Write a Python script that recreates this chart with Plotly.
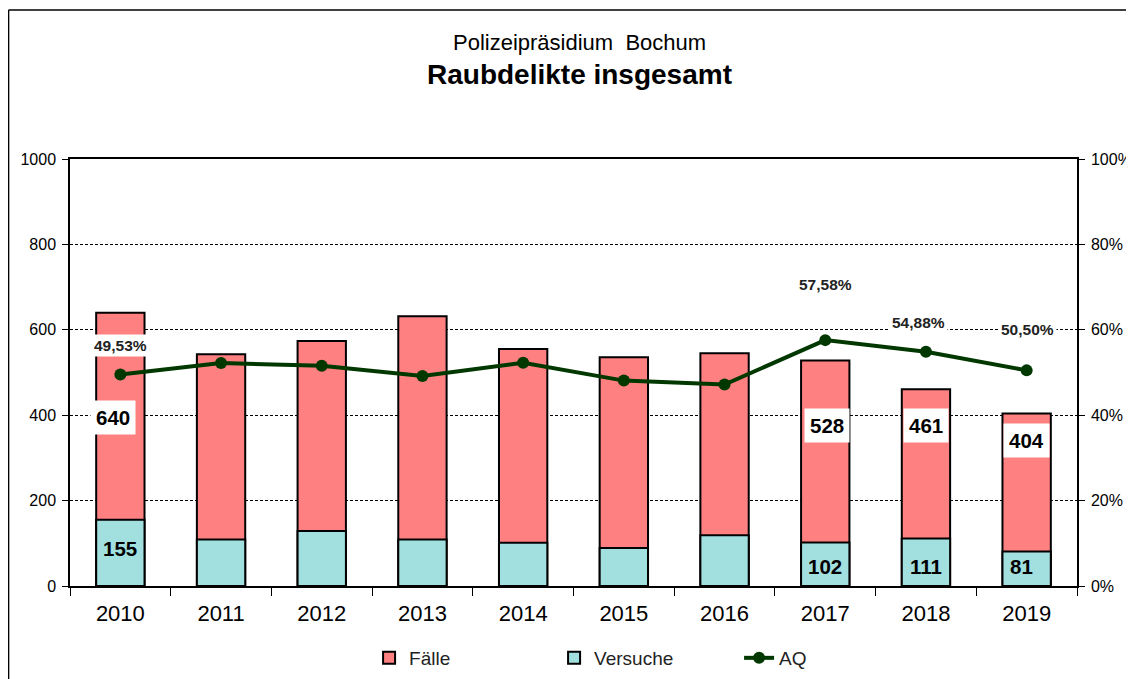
import plotly.graph_objects as go

years = ["2010", "2011", "2012", "2013", "2014", "2015", "2016", "2017", "2018", "2019"]
faelle = [640, 543, 574, 632, 555, 536, 545, 528, 461, 404]
versuche = [155, 109, 129, 109, 101, 89, 119, 102, 111, 81]
aq = [49.53, 52.2, 51.6, 49.2, 52.3, 48.1, 47.2, 57.58, 54.88, 50.50]

# which data labels are shown (as in the original chart)
faelle_label_years = ["2010", "2017", "2018", "2019"]
versuche_label_years = ["2010", "2017", "2018", "2019"]
aq_label_years = ["2010", "2017", "2018", "2019"]

# label placement (style only)
faelle_label_y = {"2010": 394, "2017": 375, "2018": 375, "2019": 340}
faelle_label_dx = {"2010": -7, "2017": 2, "2018": 0, "2019": 0}
versuche_label_y = {"2010": 87, "2017": 45, "2018": 45, "2019": 45}
versuche_label_dx = {"2010": 0, "2017": 0, "2018": 0, "2019": -5}
aq_label_y = {"2010": 0.564, "2017": 0.705, "2018": 0.616, "2019": 0.600}
aq_label_dx = {"2010": 0, "2017": 0, "2018": -7, "2019": 1}

FONT = "Arial, Liberation Sans, sans-serif"

fig = go.Figure()
fig.add_trace(go.Bar(
    x=years, y=faelle, name="Fälle",
    marker=dict(color="#FF8080", line=dict(color="black", width=2)),
    width=0.48,
))
fig.add_trace(go.Bar(
    x=years, y=versuche, name="Versuche",
    marker=dict(color="#A2E0E0", line=dict(color="black", width=2)),
    width=0.48,
))
fig.add_trace(go.Scatter(
    x=years, y=[v / 100 for v in aq], name="AQ", yaxis="y2",
    mode="lines+markers",
    line=dict(color="#003800", width=4),
    marker=dict(color="#003800", size=12),
))

ann = []
for i, (y, v) in enumerate(zip(years, faelle)):
    if y in faelle_label_years:
        ann.append(dict(x=i, y=faelle_label_y[y], xref="x", yref="y", text=f"<b>{v}</b>",
                        showarrow=False, bgcolor="white", borderpad=5, xshift=faelle_label_dx[y],
                        font=dict(family=FONT, size=20.5, color="black")))
for i, (y, v) in enumerate(zip(years, versuche)):
    if y in versuche_label_years:
        ann.append(dict(x=i, y=versuche_label_y[y], xref="x", yref="y", text=f"<b>{v}</b>",
                        showarrow=False, xshift=versuche_label_dx[y],
                        font=dict(family=FONT, size=20.5, color="black")))
for i, (y, v) in enumerate(zip(years, aq)):
    if y in aq_label_years:
        txt = f"{v:.2f}".replace(".", ",") + "%"
        ann.append(dict(x=i, y=aq_label_y[y], xref="x", yref="y2", text=f"<b>{txt}</b>",
                        showarrow=False, bgcolor="white", borderpad=2, xshift=aq_label_dx[y],
                        font=dict(family=FONT, size=15.5, color="#222222")))

ann.append(dict(x=0.506, y=1.2717, xref="paper", yref="paper", text="Polizeipräsidium  Bochum",
                showarrow=False, yanchor="middle",
                font=dict(family=FONT, size=22, color="black")))
ann.append(dict(x=0.506, y=1.199, xref="paper", yref="paper", text="<b>Raubdelikte insgesamt</b>",
                showarrow=False, yanchor="middle",
                font=dict(family=FONT, size=28, color="black")))

fig.update_layout(
    width=1126, height=671,
    margin=dict(l=62, r=57, t=151, b=93, autoexpand=False),
    paper_bgcolor="white", plot_bgcolor="white",
    barmode="overlay",
    font=dict(family=FONT, color="black"),
    annotations=ann,
    showlegend=True,
    legend=dict(orientation="h", x=0.297, xanchor="left", y=-0.1686, yanchor="middle",
                font=dict(family=FONT, size=19, color="#222222"), entrywidth=140,
                bgcolor="rgba(0,0,0,0)"),
    xaxis=dict(
        type="category", range=[-0.5, len(years) - 0.5], automargin=False,
        showline=True, linecolor="black", linewidth=1.5, mirror=True,
        ticks="outside", tickson="boundaries", ticklen=8, tickcolor="black",
        tickfont=dict(family=FONT, size=22, color="black"), showgrid=False,
        tickangle=0, ticklabelstandoff=7,
    ),
    yaxis=dict(
        range=[0, 1000], dtick=200, showline=True, linecolor="black", linewidth=1.5,
        ticks="outside", ticklen=6, tickcolor="black", automargin=False,
        tickfont=dict(family=FONT, size=16, color="black"), ticklabelstandoff=3,
        showgrid=True, gridcolor="black", gridwidth=1, griddash="3px,2px",
        zeroline=False,
    ),
    yaxis2=dict(
        range=[0, 1], dtick=0.2, tickformat=".0%", overlaying="y", side="right",
        showline=True, linecolor="black", linewidth=1.5, automargin=False,
        ticks="outside", ticklen=6, tickcolor="black", ticklabelstandoff=3,
        tickfont=dict(family=FONT, size=16, color="black"),
        showgrid=False, zeroline=False,
    ),
    shapes=[
        dict(type="line", xref="paper", yref="paper", x0=-0.061, x1=1.055, y0=1.349, y1=1.349,
             line=dict(color="black", width=1.5)),
        dict(type="line", xref="paper", yref="paper", x0=-0.061, x1=-0.061, y0=1.349, y1=-0.3,
             line=dict(color="black", width=1.5)),
    ],
)

fig.write_html("out.html")
